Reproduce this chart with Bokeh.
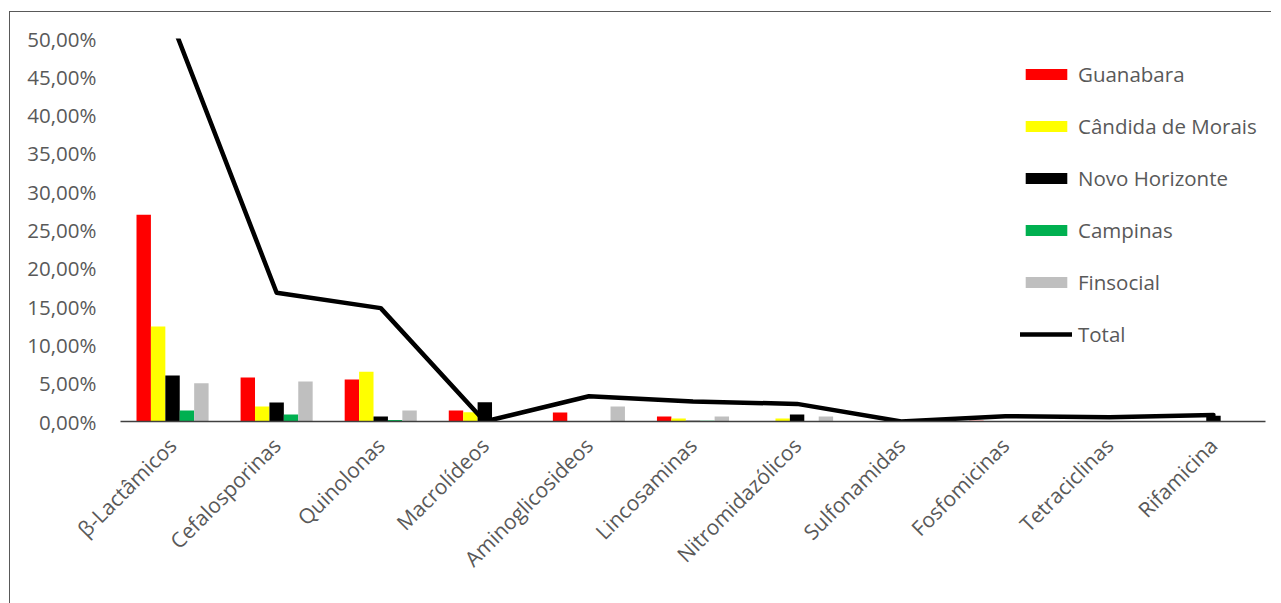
import math
from bokeh.plotting import figure
from bokeh.models import (FactorRange, Range1d, FixedTicker, CustomJSTickFormatter,
                          ColumnDataSource, Legend, LegendItem)
from bokeh.transform import dodge
from bokeh.embed import file_html
from bokeh.resources import INLINE

categories = ["β-Lactâmicos", "Cefalosporinas", "Quinolonas", "Macrolídeos", "Aminoglicosideos",
              "Lincosaminas", "Nitromidazólicos", "Sulfonamidas", "Fosfomicinas", "Tetraciclinas", "Rifamicina"]
guanabara = [0.270, 0.0574, 0.0548, 0.0144, 0.0117, 0.0065, 0.0, 0.0, 0.001, 0.0, 0.0]
candida = [0.124, 0.0196, 0.065, 0.012, 0.0, 0.004, 0.004, 0.0, 0.0, 0.0, 0.0]
novo_horizonte = [0.060, 0.0248, 0.0065, 0.025, 0.0, 0.001, 0.009, 0.0, 0.0, 0.0, 0.0075]
campinas = [0.0145, 0.0091, 0.002, 0.0, 0.0, 0.001, 0.0, 0.0, 0.0, 0.0, 0.0]
finsocial = [0.050, 0.0522, 0.0144, 0.0, 0.0196, 0.0065, 0.0065, 0.0, 0.0, 0.0, 0.0]
total = [0.519, 0.168, 0.148, 0.0, 0.033, 0.026, 0.023, 0.0, 0.007, 0.0055, 0.0085]
series_names = ["Guanabara", "Cândida de Morais", "Novo Horizonte", "Campinas", "Finsocial"]
series_colors = ["#FF0000", "#FFFF00", "#000000", "#00B050", "#BFBFBF"]
y_ticks = [0.0, 0.05, 0.10, 0.15, 0.20, 0.25, 0.30, 0.35, 0.40, 0.45, 0.50]

FONT = "Open Sans"
TXT = "#595959"

source = ColumnDataSource(dict(cat=categories, g=guanabara, c=candida, n=novo_horizonte,
                               ca=campinas, f=finsocial, t=total))

p = figure(width=1271, height=591, x_range=FactorRange(factors=categories, range_padding=0),
           y_range=Range1d(0, 0.5), output_backend="svg", toolbar_location=None,
           min_border_left=110, min_border_right=6, min_border_top=26, min_border_bottom=182,
           frame_width=1145, frame_height=383)
p.margin = (11, 0, 0, 9)
p.styles = {"border-left": "1px solid #595959", "border-top": "1px solid #595959"}
p.outline_line_color = None
p.xgrid.visible = False
p.ygrid.visible = False

bw = 0.1385
cols = ["g", "c", "n", "ca", "f"]
items = []
for i, (col, name, color) in enumerate(zip(cols, series_names, series_colors)):
    r = p.vbar(x=dodge("cat", (i - 2) * bw, range=p.x_range), top=col, width=bw, source=source,
               fill_color=color, line_color=None)
    items.append(LegendItem(label=name, renderers=[r]))

lr = p.line(x="cat", y="t", source=source, line_color="black", line_width=4.5,
            line_join="round", line_cap="round")
items.append(LegendItem(label="Total", renderers=[lr]))

legend = Legend(items=items, location=(900, 73), orientation="vertical",
                glyph_width=52, glyph_height=14, label_height=22, spacing=24,
                label_standoff=6, padding=0, margin=0,
                border_line_color=None, background_fill_alpha=0,
                label_text_font=FONT, label_text_font_size="20.5px", label_text_color=TXT)
p.add_layout(legend)

p.yaxis.ticker = FixedTicker(ticks=y_ticks)
p.yaxis.formatter = CustomJSTickFormatter(code="return (tick*100).toFixed(2).replace('.', ',') + '%';")
p.yaxis.axis_line_color = None
p.yaxis.major_tick_line_color = None
p.yaxis.minor_tick_line_color = None
p.yaxis.major_label_standoff = 18
p.yaxis.major_label_text_font = FONT
p.yaxis.major_label_text_font_size = "20.5px"
p.yaxis.major_label_text_color = TXT

p.xaxis.axis_line_color = "#404040"
p.xaxis.axis_line_width = 1.5
p.xaxis.major_tick_line_color = None
p.xaxis.minor_tick_line_color = None
p.xaxis.major_label_orientation = math.pi / 4
p.xaxis.major_label_standoff = 14
p.xaxis.major_label_text_font = FONT
p.xaxis.major_label_text_font_size = "21px"
p.xaxis.major_label_text_color = TXT

open("out.html", "w").write(file_html(p, INLINE))
